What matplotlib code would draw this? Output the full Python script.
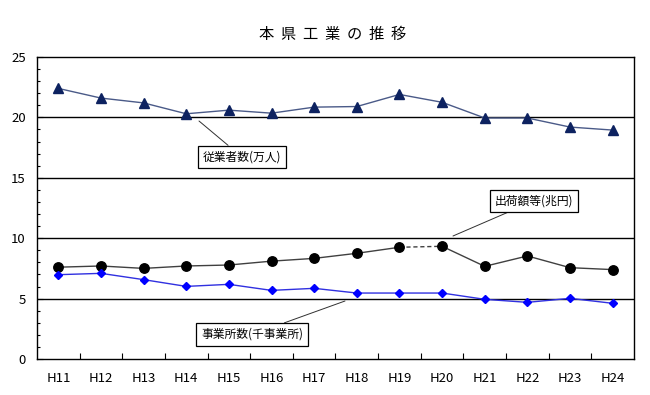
import matplotlib
matplotlib.use("Agg")
import matplotlib.pyplot as plt
import numpy as np

plt.rcParams['font.family'] = ['Noto Sans CJK JP', 'DejaVu Sans']

years = ["H11", "H12", "H13", "H14", "H15", "H16", "H17", "H18", "H19", "H20", "H21", "H22", "H23", "H24"]
employees = [22.4, 21.6, 21.2, 20.3, 20.6, 20.35, 20.85, 20.9, 21.9, 21.25, 19.95, 19.95, 19.2, 18.95]
shipments = [7.6, 7.7, 7.5, 7.7, 7.78, 8.1, 8.33, 8.75, 9.25, 9.33, 7.67, 8.53, 7.56, 7.4]
establishments = [6.98, 7.09, 6.57, 6.01, 6.18, 5.68, 5.85, 5.46, 5.46, 5.46, 4.94, 4.69, 5.02, 4.61]

title = "本  県  工  業  の  推  移"
label_emp = "従業者数(万人)"
label_ship = "出荷額等(兆円)"
label_est = "事業所数(千事業所)"

W, H = 650, 395
fig = plt.figure(figsize=(W / 100, H / 100), dpi=100)
ax = fig.add_axes([37 / W, 1 - 359 / H, (634 - 37) / W, (359 - 57) / H])

x = np.arange(len(years))

# grid lines
for v in [5, 10, 15, 20]:
    ax.axhline(v, color='black', lw=1.0, zorder=1)

# employees
ax.plot(x, employees, color='#4a5a88', lw=1.0, zorder=3)
ax.plot(x, employees, ls='none', marker='^', ms=6.5, color='#0d2260', zorder=4)

# shipments with dashed H19-H20
ax.plot(x[:9], shipments[:9], color='#404040', lw=1.0, zorder=3)
ax.plot(x[8:10], shipments[8:10], color='#404040', lw=1.0, ls=(0, (3, 2)), zorder=3)
ax.plot(x[9:], shipments[9:], color='#404040', lw=1.0, zorder=3)
ax.plot(x, shipments, ls='none', marker='o', ms=6.8, color='black', zorder=4)

# establishments
ax.plot(x, establishments, color='#3030e0', lw=1.0, zorder=3)
ax.plot(x, establishments, ls='none', marker='D', ms=4.5, color='#0000ff', zorder=4)

ax.set_xlim(-0.5, len(years) - 0.5)
ax.set_ylim(0, 25)
ax.set_yticks([0, 5, 10, 15, 20, 25])
ax.set_yticks(np.arange(0, 26, 1), minor=True)
ax.set_xticks(x)
ax.set_xticklabels(years)
ax.set_xticks(np.arange(0.5, len(years) - 1, 1), minor=True)

ax.tick_params(axis='x', which='major', length=0, pad=9, labelsize=9.5)
ax.tick_params(axis='x', which='minor', direction='in', length=4, width=0.8)
ax.tick_params(axis='y', which='major', direction='in', length=4, labelsize=9.5, pad=8)
ax.tick_params(axis='y', which='minor', direction='in', length=2.5, width=0.8)
for s in ax.spines.values():
    s.set_linewidth(1.0)
    s.set_color('black')

fig.text(333 / W, 1 - 34 / H, title, ha='center', va='center', fontsize=11)

def fp(px, py):
    return (px, H - py)

box = dict(boxstyle='square,pad=0.4', fc='white', ec='black', lw=0.9)
arrow = dict(arrowstyle='-', color='#303030', lw=0.7, shrinkA=0, shrinkB=0)

ax.annotate(label_emp, xy=fp(199, 121), xycoords='figure pixels',
            xytext=fp(242, 157), textcoords='figure pixels',
            ha='center', va='center', fontsize=8.5, bbox=box, arrowprops=arrow, zorder=5)
ax.annotate(label_ship, xy=fp(453, 236), xycoords='figure pixels',
            xytext=fp(534, 201), textcoords='figure pixels',
            ha='center', va='center', fontsize=8.5, bbox=box, arrowprops=arrow, zorder=5)
ax.annotate(label_est, xy=fp(345, 301), xycoords='figure pixels',
            xytext=fp(252, 334.5), textcoords='figure pixels',
            ha='center', va='center', fontsize=8.5, bbox=box, arrowprops=arrow, zorder=5)

fig.savefig("out.png", dpi=100)
